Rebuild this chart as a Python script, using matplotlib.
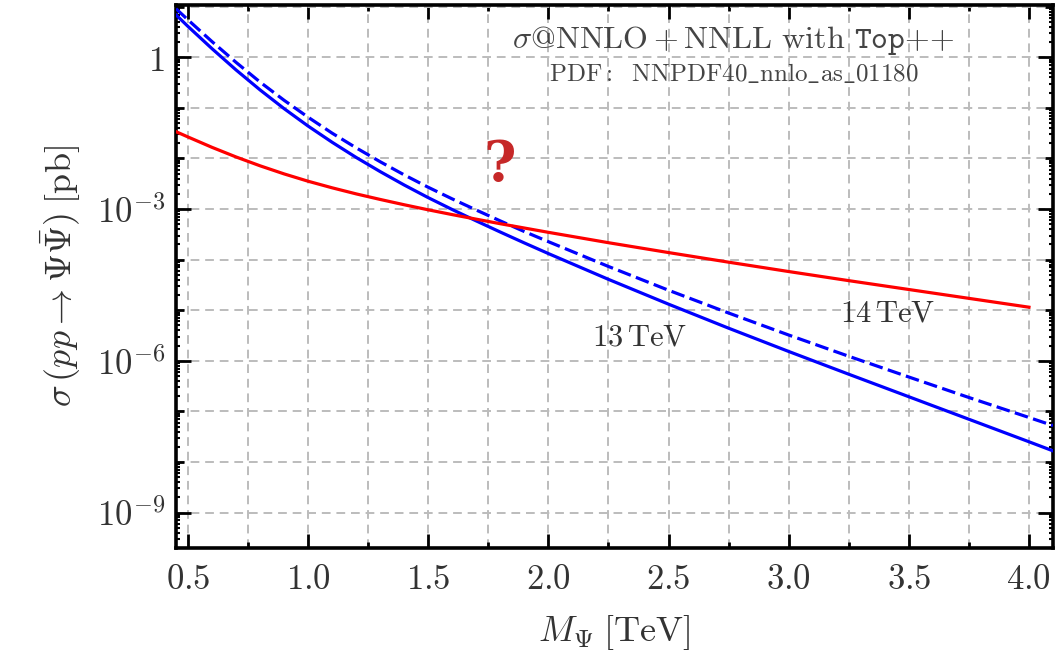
import matplotlib
matplotlib.use("Agg")
import matplotlib.pyplot as plt
from matplotlib.ticker import FixedLocator, MultipleLocator, FuncFormatter, LogLocator, NullFormatter
import numpy as np

plt.rcParams['mathtext.fontset'] = 'cm'
plt.rcParams['font.family'] = ['DejaVu Serif']

# masses [TeV]
mass = [0.45, 0.5, 0.6, 0.7, 0.8, 0.9, 1.0, 1.1, 1.2, 1.3, 1.4, 1.5, 1.6, 1.7,
        1.8, 1.9, 2.0, 2.25, 2.5, 2.75, 3.0, 3.25, 3.5, 3.75, 4.0, 4.1]

# log10(sigma / pb)
log_13tev = [0.84, 0.61, 0.17, -0.25, -0.645, -1.015, -1.36, -1.68, -1.98, -2.26,
             -2.525, -2.775, -3.01, -3.235, -3.455, -3.67, -3.88, -4.39, -4.88,
             -5.355, -5.815, -6.265, -6.71, -7.155, -7.6, -7.78]
log_14tev = [0.96, 0.74, 0.31, -0.10, -0.49, -0.85, -1.185, -1.50, -1.79, -2.065,
             -2.325, -2.57, -2.80, -3.02, -3.235, -3.445, -3.645, -4.135, -4.605,
             -5.055, -5.49, -5.91, -6.32, -6.725, -7.12, -7.28]
log_other_mass = mass[:-1]
log_other = [-1.47, -1.575, -1.78, -1.97, -2.145, -2.305, -2.45, -2.58, -2.70, -2.81,
             -2.915, -3.015, -3.11, -3.20, -3.29, -3.375, -3.46, -3.665, -3.86,
             -4.05, -4.235, -4.415, -4.59, -4.765, -4.94]

xticks = [0.5, 1.0, 1.5, 2.0, 2.5, 3.0, 3.5, 4.0]
ylabeled = [0, -3, -6, -9]

fig = plt.figure(figsize=(10.64, 6.68), dpi=100)
ax = fig.add_axes([176 / 1064, 1 - 548 / 668, (1053 - 176) / 1064, (548 - 5) / 668])

ax.plot(mass, 10.0 ** np.array(log_13tev), color='#0000ff', lw=2.3, zorder=3)
ax.plot(mass, 10.0 ** np.array(log_14tev), color='#0000ff', lw=2.3,
        dashes=(4.3, 1.7), zorder=3)
ax.plot(log_other_mass, 10.0 ** np.array(log_other), color='#ff0000', lw=2.3, zorder=3)

ax.set_yscale('log')
ax.set_xlim(0.45, 4.1)
ax.set_ylim(10 ** -9.7, 10 ** 1.034)

ax.xaxis.set_major_locator(FixedLocator(xticks))
ax.xaxis.set_minor_locator(MultipleLocator(0.25))
ax.xaxis.set_major_formatter(FuncFormatter(lambda v, p: r'$%.1f$' % v))

ax.yaxis.set_major_locator(FixedLocator([10.0 ** k for k in range(1, -11, -1)]))
ax.yaxis.set_minor_locator(LogLocator(base=10, subs=np.arange(2, 10), numticks=30))
ax.yaxis.set_minor_formatter(NullFormatter())


def ylab(v, p):
    k = int(round(np.log10(v)))
    if k not in ylabeled:
        return ''
    if k == 0:
        return r'$1$'
    return r'$10^{%d}$' % k


ax.yaxis.set_major_formatter(FuncFormatter(ylab))

ax.tick_params(which='both', direction='in', top=True, right=True, colors='black',
               labelcolor='#333333', labelsize=25, width=2)
ax.tick_params(axis='x', which='major', length=10, pad=10)
ax.tick_params(axis='x', which='minor', length=4)
ax.tick_params(axis='y', which='major', length=6, pad=8)
ax.tick_params(axis='y', which='minor', length=3, width=1.5)

# long ticks on the labelled decades
for t, v in zip(ax.yaxis.get_major_ticks(), ax.yaxis.get_majorticklocs()):
    if int(round(np.log10(v))) in ylabeled:
        t.tick1line.set_markersize(11)
        t.tick2line.set_markersize(11)

ax.grid(True, which='major', axis='y', color='#bcbcbc', lw=1.4, ls=(0, (4.5, 3)))
ax.grid(True, which='both', axis='x', color='#bcbcbc', lw=1.4, ls=(0, (4.5, 3)))
ax.set_axisbelow(True)

for s in ax.spines.values():
    s.set_linewidth(2.6)

ax.set_xlabel(r'$M_{\Psi}\;[\mathrm{TeV}]$', fontsize=26, color='#333333', labelpad=12)
ax.set_ylabel(r'$\sigma\,(pp \rightarrow \Psi\bar{\Psi})\;[\mathrm{pb}]$', fontsize=26,
              color='#333333', labelpad=10)

ax.text(2.768, 10 ** 0.34, r'$\sigma@\mathrm{NNLO} + \mathrm{NNLL}$ $\mathrm{with}$ $\mathtt{Top{+}{+}}$',
        fontsize=23, color='#444444', ha='center', va='center')
ax.text(2.772, 10 ** -0.33, r'$\mathrm{PDF:\ \ NNPDF40\_nnlo\_as\_01180}$',
        fontsize=18, color='#444444', ha='center', va='center')
ax.text(1.798, 10 ** -2.13, '?', fontsize=40, fontweight='bold', color='#c62828',
        ha='center', va='center', family='DejaVu Serif')
ax.text(2.381, 10 ** -5.53, r'$13\,\mathrm{TeV}$', fontsize=22, color='#333333',
        ha='center', va='center')
ax.text(3.413, 10 ** -5.06, r'$14\,\mathrm{TeV}$', fontsize=22, color='#333333',
        ha='center', va='center')

fig.savefig('out.png', dpi=100)
